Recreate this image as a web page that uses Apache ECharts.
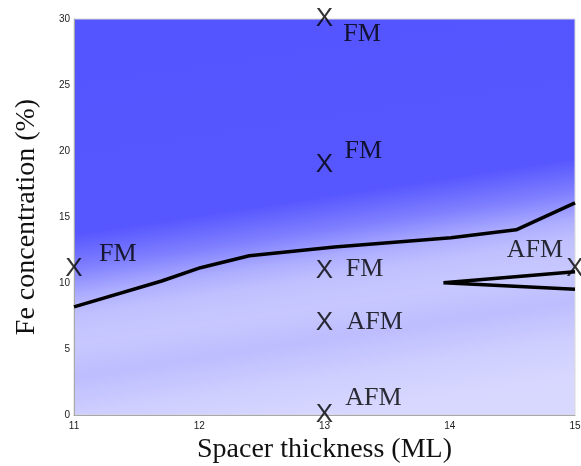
<!DOCTYPE html>
<html>
<head>
<meta charset="utf-8">
<script src="https://cdn.jsdelivr.net/npm/echarts@6/dist/echarts.min.js"></script>
<style>
  html, body { margin: 0; padding: 0; background: #fff; }
  #chart { width: 581px; height: 466px; }
</style>
</head>
<body>
<div id="chart"></div>
<script>
// phase boundary (thick black line)
const boundaryX = [11, 11.7, 12.01, 12.4, 13.08, 14.01, 14.53, 15];
const boundaryY = [8.19, 10.15, 11.16, 12.07, 12.72, 13.43, 14.03, 16.07];

// AFM wedge on the right
const wedgeX = [15, 13.95, 15];
const wedgeY = [10.86, 10.02, 9.52];

// computed points, drawn as "X"
const crossX = [11, 13, 13, 13, 13, 13, 15];
const crossY = [11.05, 30, 18.95, 10.95, 6.95, 0, 11.05];

// phase labels
const phaseNames = ['FM', 'FM', 'FM', 'FM', 'AFM', 'AFM', 'AFM'];
const phaseX = [11.35, 13.3, 13.31, 13.32, 13.4, 13.39, 14.68];
const phaseY = [12.18, 28.85, 19.98, 11.05, 7.01, 1.3, 12.46];

const xTicks = [11, 12, 13, 14, 15];
const yTicks = [0, 5, 10, 15, 20, 25, 30];

const chart = echarts.init(document.getElementById('chart'));

const zip = (xs, ys) => xs.map((x, i) => [x, ys[i]]);

const bg = new echarts.graphic.LinearGradient(0.44, 0, 0.56, 1, [
  { offset: 0, color: '#5555ff' },
  { offset: 0.45, color: '#5757ff' },
  { offset: 0.53, color: '#7e7eff' },
  { offset: 0.6, color: '#adadff' },
  { offset: 0.65, color: '#c0c0ff' },
  { offset: 0.72, color: '#c8c8ff' },
  { offset: 0.8, color: '#bdbdff' },
  { offset: 0.9, color: '#cfcfff' },
  { offset: 1, color: '#d8d8ff' },
]);

chart.setOption({
  animation: false,
  backgroundColor: '#fff',
  grid: {
    left: 74,
    right: 6,
    top: 19,
    bottom: 51,
    outerBoundsMode: 'none',
    show: true,
    backgroundColor: bg,
    borderColor: '#d8d8d8',
    borderWidth: 1,
  },
  xAxis: {
    type: 'value',
    min: 11,
    max: 15,
    interval: 1,
    name: 'Spacer thickness (ML)',
    nameLocation: 'middle',
    nameGap: 19,
    nameTextStyle: { fontFamily: 'Liberation Serif', fontSize: 28, color: '#111' },
    axisLine: { show: true, lineStyle: { color: '#a8a8a8', width: 1 } },
    axisTick: { show: false },
    splitLine: { show: false },
    axisLabel: {
      fontFamily: 'Liberation Sans',
      fontSize: 10,
      color: '#222',
      margin: 6,
      formatter: v => (xTicks.includes(v) ? String(v) : ''),
    },
  },
  yAxis: {
    type: 'value',
    min: 0,
    max: 30,
    interval: 5,
    name: 'Fe concentration (%)',
    nameLocation: 'middle',
    nameGap: 33,
    nameTextStyle: { fontFamily: 'Liberation Serif', fontSize: 28, color: '#111' },
    axisLine: { show: true, lineStyle: { color: '#a8a8a8', width: 1 } },
    axisTick: { show: false },
    splitLine: { show: false },
    axisLabel: {
      fontFamily: 'Liberation Sans',
      fontSize: 10,
      color: '#222',
      margin: 4,
      formatter: v => (yTicks.includes(v) ? String(v) : ''),
    },
  },
  series: [
    {
      type: 'line',
      data: zip(boundaryX, boundaryY),
      symbol: 'none',
      lineStyle: { color: '#000', width: 3.5 },
      z: 3,
    },
    {
      type: 'line',
      data: zip(wedgeX, wedgeY),
      symbol: 'none',
      lineStyle: { color: '#000', width: 3.5, join: 'miter' },
      z: 3,
    },
    {
      type: 'scatter',
      data: zip(crossX, crossY),
      symbolSize: 1,
      itemStyle: { color: 'rgba(0,0,0,0)' },
      clip: false,
      z: 4,
      label: {
        show: true,
        position: 'inside',
        formatter: 'X',
        fontFamily: 'Liberation Sans',
        fontSize: 26,
        color: '#000',
      },
    },
    {
      type: 'scatter',
      data: phaseX.map((x, i) => ({ value: [x, phaseY[i]], name: phaseNames[i] })),
      symbolSize: 1,
      itemStyle: { color: 'rgba(0,0,0,0)' },
      clip: false,
      z: 4,
      label: {
        show: true,
        position: 'inside',
        formatter: p => p.name,
        fontFamily: 'Liberation Serif',
        fontSize: 26,
        color: '#000',
      },
    },
  ],
});
</script>
</body>
</html>
